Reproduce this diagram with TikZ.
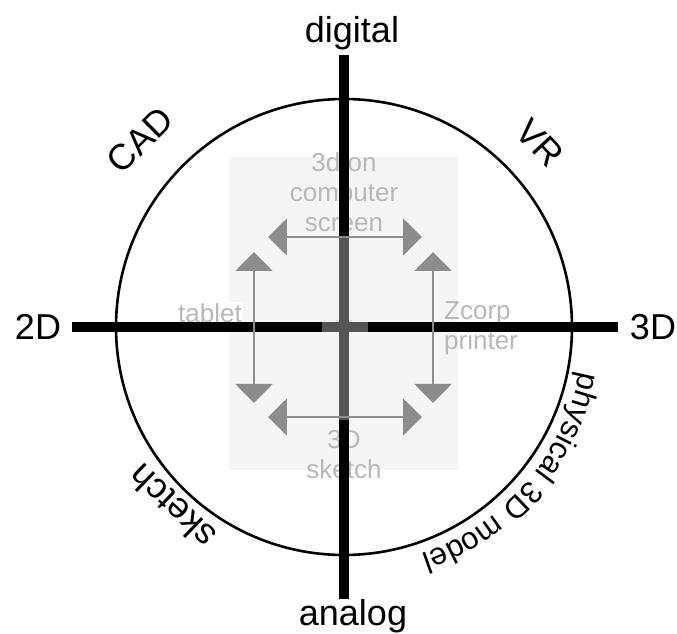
\documentclass[tikz,border=0pt]{standalone}
\usepackage{fontspec}
\setmainfont{Liberation Sans}
\usetikzlibrary{arrows.meta, decorations.text}
\definecolor{panelgray}{HTML}{F5F5F5}
\definecolor{coregray}{HTML}{555555}
\definecolor{arrowgray}{HTML}{8C8C8C}
\definecolor{labelgray}{HTML}{B8B8B8}
\newcommand{\curvefont}{\fontsize{31}{34}\selectfont}
\tikzstyle{axis}      = [line width=10pt, black]
\tikzstyle{coreaxis}  = [line width=10pt, coregray]
\tikzstyle{mover}     = [line width=2pt, arrowgray,
                          {Triangle[length=19pt, width=37pt]}-{Triangle[length=19pt, width=37pt]}]
\tikzstyle{biglabel}  = [font=\fontsize{36}{40}\selectfont, inner sep=0pt]
\tikzstyle{toollabel} = [font=\fontsize{26}{30}\selectfont, text=labelgray, align=center, inner sep=1pt]

\begin{document}
\begin{tikzpicture}[x=1pt, y=1pt]
  \useasboundingbox (-344,-307) rectangle (333,327);

  % Panel and circle
  \fill[panelgray] (-115,170) rectangle (114,-143);
  \draw[line width=2.6pt] (0,0) circle (228);

  % Media inside the panel
  \node (screen)  [toollabel] at (0,135)    {3d on\\computer\\screen};
  \node (tablet)  [toollabel, fill=white] at (-134,14) {tablet};
  \node (zcorp)   [toollabel, align=left, anchor=west] at (99,-1) {Zcorp\\printer};
  \node (sketch3d)[toollabel] at (0,-128)   {3D\\sketch};

  % Axis labels
  \node (digital) [biglabel, anchor=base] at (8,284)    {digital};
  \node (analog)  [biglabel, anchor=base] at (9,-298)   {analog};
  \node (twoD)    [biglabel, anchor=base] at (-306,-13) {2D};
  \node (threeD)  [biglabel, anchor=base] at (309,-13)  {3D};

  % Quadrant labels
  \node (cad)    [biglabel, rotate=45]  at (-204,187)  {CAD};
  \node (vr)     [biglabel, rotate=-47] at (196,184)   {VR};
  \node (sketch) [biglabel, rotate=136] at (-172,-180) {sketch};
  \path[decorate, decoration={text along path, text align=center,
        text={|\curvefont|physical 3D model}}]
    (-6:240) arc[start angle=-6, end angle=-76, radius=240];

  % Axis ends
  \coordinate (west)  at (-272,0);
  \coordinate (east)  at (274,0);
  \coordinate (north) at (0,272);
  \coordinate (south) at (0,-272);
  \coordinate (coreN) at (0,90);
  \coordinate (coreS) at (0,-93);
  \coordinate (coreW) at (-22,0);
  \coordinate (coreE) at (24,0);

  \draw[axis] (west) -- (east);
  \draw[axis] (north) -- (south);
  \draw[coreaxis] (coreN) -- (coreS);
  \draw[coreaxis] (coreW) -- (coreE);

  % Arrow ends
  \coordinate (topL) at (-76,90);
  \coordinate (topR) at (78,90);
  \coordinate (botL) at (-76,-90);
  \coordinate (botR) at (78,-90);
  \coordinate (lefT) at (-90,75);
  \coordinate (lefB) at (-90,-76);
  \coordinate (rigT) at (89,75);
  \coordinate (rigB) at (89,-76);

  \draw[mover] (topL) -- (topR);
  \draw[mover] (botL) -- (botR);
  \draw[mover] (lefT) -- (lefB);
  \draw[mover] (rigT) -- (rigB);

\end{tikzpicture}
\end{document}
